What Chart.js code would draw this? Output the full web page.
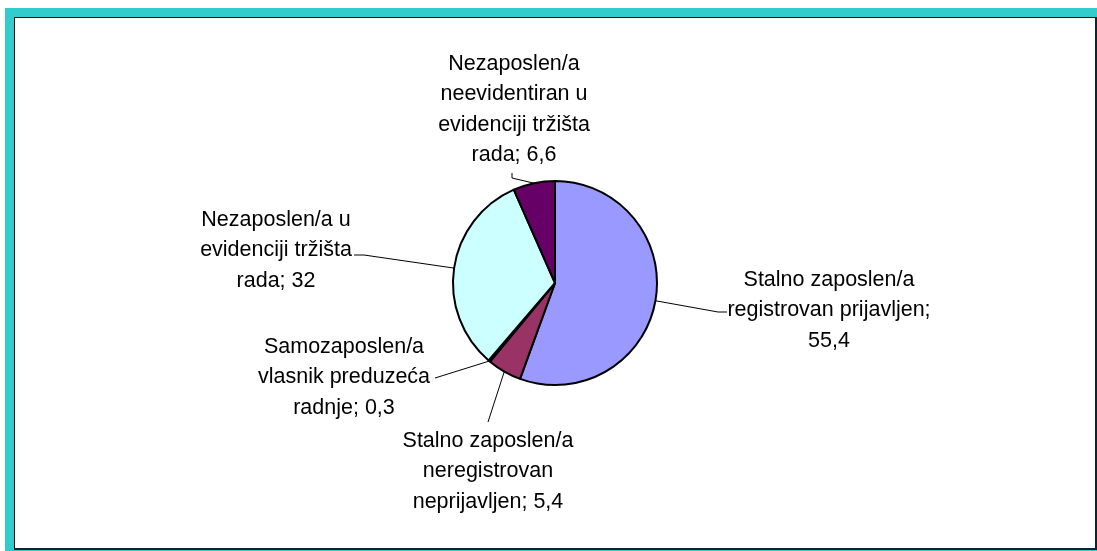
<!DOCTYPE html>
<html>
<head>
<meta charset="utf-8">
<script src="https://cdn.jsdelivr.net/npm/chart.js@4"></script>
<style>
  html, body { margin: 0; padding: 0; background: #fff; }
  body { width: 1097px; height: 551px; position: relative; overflow: hidden; }
  #okvir { position: absolute; left: 5px; top: 8px; width: 1100px; height: 560px; background: #33CCCC; }
  #unutra { position: absolute; left: 14px; top: 17px; width: 1080px; height: 530px; background: #fff;
            border-top: 1px solid #111; border-left: 1px solid #111; border-right: 2px solid #123; border-bottom: 2px solid #123; }
  #grafik { position: absolute; left: 0; top: 0; }
</style>
</head>
<body>
<div id="okvir"></div>
<div id="unutra"></div>
<canvas id="grafik" width="1097" height="551"></canvas>
<script>
// Podaci sa slike (procenti)
const kategorije = [
  'Stalno zaposlen/a\nregistrovan prijavljen',
  'Stalno zaposlen/a\nneregistrovan\nneprijavljen',
  'Samozaposlen/a\nvlasnik preduzeća\nradnje',
  'Nezaposlen/a u\nevidenciji tržišta\nrada',
  'Nezaposlen/a\nneevidentiran u\nevidenciji tržišta\nrada'
];
const vrednosti = [55.4, 5.4, 0.3, 32, 6.6];
const boje = ['#9999FF', '#993366', '#FFFFCC', '#CCFFFF', '#660066'];

// Raspored natpisa: centar teksta, prvi red, vrednost u novom redu, tacke linije
const natpisi = [
  { x: 829, y: 280, noviRed: true,  linija: [[718, 312], [727, 312]] },
  { x: 488, y: 441, noviRed: false, linija: [[488, 422]] },
  { x: 344, y: 347, noviRed: false, linija: [[435, 378]] },
  { x: 276, y: 220, noviRed: false, linija: [[364, 255], [354, 255]] },
  { x: 514, y: 64,  noviRed: false, linija: [[512, 178], [512, 173]] }
];

const natpisiPlugin = {
  id: 'natpisi',
  afterDatasetsDraw(chart) {
    const ctx = chart.ctx;
    const meta = chart.getDatasetMeta(0);
    ctx.save();
    ctx.font = '21.5px "Liberation Sans", Arial, sans-serif';
    ctx.fillStyle = '#000';
    ctx.strokeStyle = '#000';
    ctx.lineWidth = 1;
    ctx.textAlign = 'center';
    ctx.textBaseline = 'middle';
    meta.data.forEach((arc, i) => {
      const p = arc.getProps(['x', 'y', 'startAngle', 'endAngle', 'outerRadius'], true);
      const ugao = (p.startAngle + p.endAngle) / 2;
      const sx = p.x + Math.cos(ugao) * p.outerRadius;
      const sy = p.y + Math.sin(ugao) * p.outerRadius;
      const n = natpisi[i];
      ctx.beginPath();
      ctx.moveTo(sx, sy);
      n.linija.forEach(t => ctx.lineTo(t[0], t[1]));
      ctx.stroke();
      const vr = String(vrednosti[i]).replace('.', ',');
      const tekst = kategorije[i] + (n.noviRed ? ';\n' : '; ') + vr;
      tekst.split('\n').forEach((red, k) => {
        ctx.fillText(red, n.x, n.y + k * 30.5);
      });
    });
    ctx.restore();
  }
};

const ctx = document.getElementById('grafik').getContext('2d');
const grafik = new Chart(ctx, {
  type: 'pie',
  data: {
    labels: kategorije,
    datasets: [{
      data: vrednosti,
      backgroundColor: boje,
      borderColor: '#000',
      borderWidth: 2
    }]
  },
  options: {
    responsive: false,
    animation: false,
    layout: { padding: { left: 452, right: 439, top: 180, bottom: 165 } },
    plugins: {
      legend: { display: false },
      tooltip: { enabled: false }
    }
  },
  plugins: [natpisiPlugin]
});
</script>
</body>
</html>
